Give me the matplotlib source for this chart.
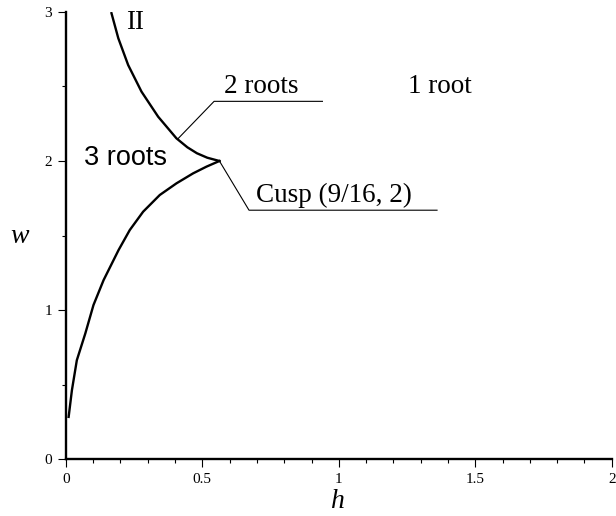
import numpy as np
import matplotlib
matplotlib.use("Agg")
import matplotlib.pyplot as plt

# boundary of the root-count regions, two branches meeting at the cusp
h_lower = [0.010, 0.022, 0.040, 0.071, 0.101, 0.138, 0.193, 0.234, 0.283,
           0.344, 0.405, 0.466, 0.515, 0.5625]
w_lower = [0.284, 0.463, 0.664, 0.843, 1.034, 1.201, 1.403, 1.537, 1.660,
           1.772, 1.850, 1.917, 1.962, 2.0]
h_upper = [0.167, 0.192, 0.228, 0.277, 0.338, 0.405, 0.445, 0.480, 0.518, 0.5625]
w_upper = [2.991, 2.823, 2.644, 2.465, 2.297, 2.152, 2.092, 2.052, 2.022, 2.0]

cusp = (9 / 16, 2)
x_ticks = [0, 0.5, 1, 1.5, 2]
x_labels = ["0", "0.5", "1", "1.5", "2"]
y_ticks = [0, 1, 2, 3]
y_labels = ["0", "1", "2", "3"]

serif = "Liberation Serif"
sans = "Liberation Sans"

fig = plt.figure(figsize=(6.16, 5.16), dpi=100)
ax = fig.add_axes([0.107, 0.110, 0.886, 0.867])

ax.plot(h_lower, w_lower, color="black", lw=1.7)
ax.plot(h_upper, w_upper, color="black", lw=1.7)

# leader lines for the labels
ax.plot([0.411, 0.543, 0.940], [2.15, 2.40, 2.40], color="black", lw=0.8)
ax.plot([cusp[0], 0.671, 1.36], [cusp[1], 1.67, 1.67], color="black", lw=0.8)

ax.text(0.579, 2.415, "2 roots", family=serif, fontsize=19.5, va="bottom")
ax.text(1.253, 2.415, "1 root", family=serif, fontsize=19.5, va="bottom")
ax.text(0.696, 1.685, "Cusp (9/16, 2)", family=serif, fontsize=19.5, va="bottom")
ax.text(0.068, 2.02, "3 roots", family=sans, fontsize=19.5, va="center")
ax.text(0.22, 2.93, "II", family=serif, fontsize=19.5, va="center")

ax.set_xlim(0, 2)
ax.set_ylim(0, 3)
ax.set_xticks(x_ticks)
ax.set_xticklabels(x_labels)
ax.set_yticks(y_ticks)
ax.set_yticklabels(y_labels)
ax.set_xticks(np.arange(0, 2.01, 0.1), minor=True)
ax.set_yticks(np.arange(0, 3.01, 0.5), minor=True)
for lab in ax.get_xticklabels() + ax.get_yticklabels():
    lab.set_family(serif)
    lab.set_fontsize(11)
ax.tick_params(which="major", length=6, width=0.8, pad=4)
ax.tick_params(which="minor", length=3, width=0.8)

for side in ["top", "right"]:
    ax.spines[side].set_visible(False)
for side in ["left", "bottom"]:
    ax.spines[side].set_linewidth(1.7)

fig.text(20 / 616, 1 - 237 / 516, "w", family=serif, style="italic",
         fontsize=20, ha="center", va="center")
fig.text(338 / 616, 1 - 502 / 516, "h", family=serif, style="italic",
         fontsize=20, ha="center", va="center")

fig.savefig("out.png", dpi=100)
